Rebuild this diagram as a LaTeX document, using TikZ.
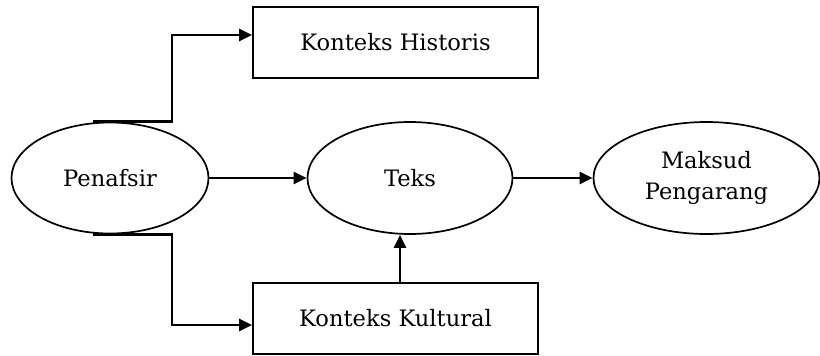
\documentclass[tikz,border=0pt]{standalone}
\usepackage{fontspec}
\setmainfont{DejaVu Serif}
\usepackage{tikz}
\usetikzlibrary{shapes.geometric}
\usetikzlibrary{arrows.meta}

\begin{document}
\begin{tikzpicture}[
				x=0.5pt, y=-0.5pt,
				roundnode/.style={ellipse, draw=black, line width=0.85pt, inner sep=0pt, align=center, font=\fontsize{11.3}{15.5}\selectfont},
				boxnode/.style={rectangle, draw=black, line width=0.85pt, inner sep=0pt, minimum width=142.5pt, minimum height=35.5pt, font=\fontsize{11.3}{15.5}\selectfont},
				link/.style={line width=1.35pt, -{Triangle[length=6.5pt,width=6pt]}},
				]
				\useasboundingbox (0,0) rectangle (820,355);
				%Nodes
				\node[roundnode, minimum width=98.5pt, minimum height=55.5pt]  (pen) 	at 	(110,178)     {Penafsir};
				\node[roundnode, minimum width=102.5pt, minimum height=56pt]   (teks) 	at 	(410,178)     {Teks};
				\node[roundnode, minimum width=113pt, minimum height=56pt]     (maksud) at 	(706.5,178)   {Maksud\\Pengarang};
				\node[boxnode]      (hist) 	at 	(395.5,42.5)    {Konteks Historis};
				\node[boxnode]      (kult) 	at 	(395.5,318.5)   {Konteks Kultural};

				%Lines
				\draw[link] ([xshift=-8.5pt]pen.north) -- ([xshift=31pt]pen.north) |- ([yshift=3.75pt]hist.west);
				\draw[link] ([xshift=-8.5pt]pen.south) -- ([xshift=31pt]pen.south) |- ([yshift=-3.25pt]kult.west);
				\draw[link] (pen.east) -- (teks.west);
				\draw[link] (teks.east) -- (maksud.west);
				\draw[link] ([xshift=2.25pt]kult.north) -- ([xshift=2.25pt]kult.north |- teks.south);
			\end{tikzpicture}
\end{document}
